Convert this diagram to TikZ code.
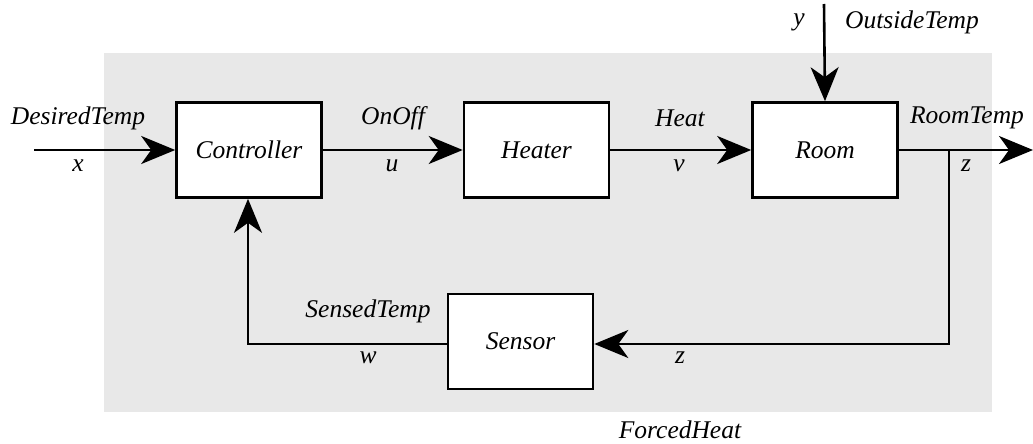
\documentclass[tikz,border=0pt]{standalone}
\usepackage{fontspec}
\setmainfont{LiberationSerif}[Extension=.ttf,UprightFont=*-Regular,ItalicFont=*-Italic,BoldFont=*-Bold,BoldItalicFont=*-BoldItalic]
\usetikzlibrary{arrows.meta}
\begin{document}
\begin{tikzpicture}[x=1pt,y=-1pt,
  block/.style={draw,line width=2.6pt,fill=white,minimum width=145pt,minimum height=95pt,inner sep=0pt,font=\fontsize{25.5}{30}\selectfont\itshape},
  lbl/.style={inner sep=0pt,font=\fontsize{25.5}{30}\selectfont\itshape},
  wire/.style={line width=2.6pt},
  arr/.style={wire,-{Stealth[length=34pt,width=28pt,inset=10pt]}}]
\fill[white] (0,0) rectangle (1033,444);
\useasboundingbox (0,0) rectangle (1033,444);
\fill[black!9] (104,53) rectangle (992,412);
\node[block] (ctrl) at (249,150) {Controller};
\node[block] (heat) at (536.5,150) {Heater};
\node[block] (room) at (825,150) {Room};
\node[block] (sens) at (520.5,341.5) {Sensor};
\coordinate (in) at (34,150);
\coordinate (out) at (1033,150);
\coordinate (br) at (949,150);
\coordinate (fb) at (949,344);
\coordinate (sw) at (248,344);
\coordinate (top) at (824,4);
\draw[arr] (in) -- (ctrl.west);
\draw[arr] (ctrl.east) -- (heat.west);
\draw[arr] (heat.east) -- (room.west);
\draw[arr] (room.east) -- (out);
\draw[arr] (top) -- (room.north);
\draw[arr] (br) -- (fb) -- (sens.east |- fb);
\draw[arr] (sens.west |- sw) -- (sw) -- (ctrl.south -| sw);
\node[lbl] (l1) at (78,118) {DesiredTemp};
\node[lbl] (l2) at (78,166) {x};
\node[lbl] (l3) at (393,118) {OnOff};
\node[lbl] (l4) at (392,166) {u};
\node[lbl] (l5) at (680,118) {Heat};
\node[lbl] (l6) at (679,166) {v};
\node[lbl] (l7) at (967,118) {RoomTemp};
\node[lbl] (l8) at (966,166) {z};
\node[lbl] (l9) at (799,22) {y};
\node[lbl] (l10) at (912,22) {OutsideTemp};
\node[lbl] (l11) at (368,311) {SensedTemp};
\node[lbl] (l12) at (368,358) {w};
\node[lbl] (l13) at (680,358) {z};
\node[lbl] (l14) at (680,430) {ForcedHeat};
\end{tikzpicture}
\end{document}
